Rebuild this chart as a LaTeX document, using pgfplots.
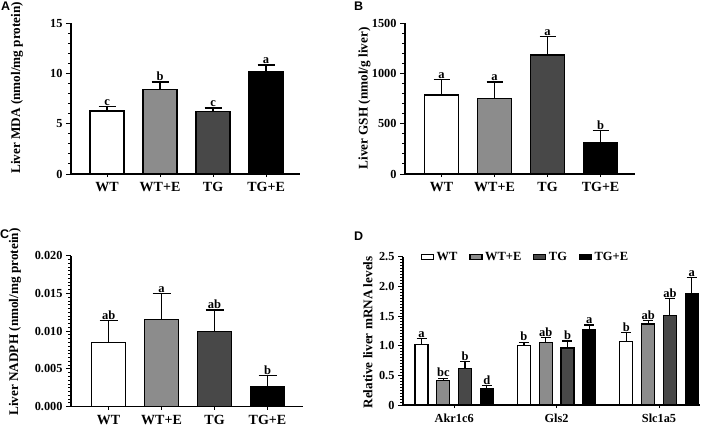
\documentclass[border=0pt]{standalone}
\usepackage{pgfplots}
\pgfplotsset{compat=1.18}
\usepackage{fontspec}
\setmainfont{Liberation Serif}
\setsansfont{Liberation Sans}
\definecolor{midgray}{RGB}{140,140,140}
\definecolor{darkgray}{RGB}{72,72,72}
\tikzset{lt/.style={anchor=south, yshift=0pt, inner sep=1pt, font=\bfseries\fontsize{12.5}{13}\selectfont}}
\pgfplotsset{
  gp/.style={
    scale only axis, clip=false,
    axis x line*=bottom, axis y line*=left,
    axis line style={line width=1.3pt},
    tick align=outside,
    major tick length=5pt, minor tick length=3pt,
    every tick/.style={line width=1.0pt, black},
    xtick style={/pgfplots/major tick length=3pt},
    ymin=0,
    ybar, bar shift=0pt,
    /pgf/number format/assume math mode=true,
    /pgf/number format/1000 sep={},
    yticklabel style={font=\bfseries\fontsize{12.3}{13}\selectfont},
    xticklabel style={font=\bfseries\fontsize{14}{15}\selectfont},
    every axis y label/.style={rotate=90, anchor=center, font=\bfseries\fontsize{13.2}{14}\selectfont},
  },
  barA/.style={draw=black, line width=1.3pt, bar width=34pt,
    error bars/y dir=plus, error bars/y explicit,
    error bars/error bar style={line width=1.3pt, black},
    error bars/error mark options={rotate=90, mark size=#1, line width=1.3pt, black}},
  barA/.default=8.5pt,
  barD/.style={draw=black, line width=1.2pt, bar width=13pt,
    error bars/y dir=plus, error bars/y explicit,
    error bars/error bar style={line width=1.2pt, black},
    error bars/error mark options={rotate=90, mark size=5pt, line width=1.2pt, black}},
}
\begin{document}
\begin{tikzpicture}
\useasboundingbox (0,0) rectangle (709pt,-426pt);
\node[anchor=north west, inner sep=0pt, font=\sffamily\bfseries\fontsize{12.5}{13}\selectfont] at (1pt,-2pt) {A};
\node[anchor=north west, inner sep=0pt, font=\sffamily\bfseries\fontsize{12.5}{13}\selectfont] at (354pt,-2pt) {B};
\node[anchor=north west, inner sep=0pt, font=\sffamily\bfseries\fontsize{12.5}{13}\selectfont] at (0pt,-230pt) {C};
\node[anchor=north west, inner sep=0pt, font=\sffamily\bfseries\fontsize{12.5}{13}\selectfont] at (354pt,-232pt) {D};

% Panel A
\begin{axis}[gp, at={(71pt,-174pt)}, anchor=south west, width=229pt, height=151pt,
  xmin=-0.68, xmax=3.64, ymax=15, ytick={0,5,10,15}, minor y tick num=4,
  xtick={0,1,2,3}, xticklabels={WT,WT+E,TG,TG+E},
  ylabel={Liver MDA (nmol/mg protein)},
  ylabel style={at={(axis description cs:-0.236,0.57)}}]
\addplot[fill=white, barA] coordinates {(0,6.25) +- (0,0.45)};
\addplot[fill=midgray, barA] coordinates {(1,8.37) +- (0,0.76)};
\addplot[fill=darkgray, barA] coordinates {(2,6.2) +- (0,0.35)};
\addplot[fill=black, barA] coordinates {(3,10.2) +- (0,0.63)};
\node[lt] at (axis cs:0,6.7) {c};
\node[lt] at (axis cs:1,9.13) {b};
\node[lt] at (axis cs:2,6.55) {c};
\node[lt] at (axis cs:3,10.83) {a};
\end{axis}

% Panel B
\begin{axis}[gp, at={(405pt,-174pt)}, anchor=south west, width=230pt, height=151pt,
  xmin=-0.69, xmax=3.65, ymax=1500, ytick={0,500,1000,1500}, minor y tick num=4,
  xtick={0,1,2,3}, xticklabels={WT,WT+E,TG,TG+E},
  ylabel={Liver GSH (nmol/g liver)},
  ylabel style={at={(axis description cs:-0.176,0.5)}}]
\addplot[fill=white, barA=8pt] coordinates {(0,785) +- (0,155)};
\addplot[fill=midgray, barA=8pt] coordinates {(1,752) +- (0,162)};
\addplot[fill=darkgray, barA=8pt] coordinates {(2,1182) +- (0,182)};
\addplot[fill=black, barA=8pt] coordinates {(3,315) +- (0,115)};
\node[lt] at (axis cs:0,940) {a};
\node[lt] at (axis cs:1,914) {a};
\node[lt] at (axis cs:2,1364) {a};
\node[lt] at (axis cs:3,430) {b};
\end{axis}

% Panel C
\begin{axis}[gp, at={(71pt,-406.7pt)}, anchor=south west, width=232pt, height=151pt,
  xmin=-0.71, xmax=3.67, ymax=0.020, ytick={0,0.005,0.010,0.015,0.020}, minor y tick num=9,
  scaled y ticks=false,
  yticklabel style={/pgf/number format/.cd, fixed, fixed zerofill, precision=3},
  xtick={0,1,2,3}, xticklabels={WT,WT+E,TG,TG+E},
  ylabel={Liver NADPH (nmol/mg protein)},
  ylabel style={at={(axis description cs:-0.241,0.56)}}]
\addplot[fill=white, barA=9pt] coordinates {(0,0.00848) +- (0,0.00291)};
\addplot[fill=midgray, barA=9pt] coordinates {(1,0.01157) +- (0,0.00344)};
\addplot[fill=darkgray, barA=9pt] coordinates {(2,0.00998) +- (0,0.00282)};
\addplot[fill=black, barA=9pt] coordinates {(3,0.00265) +- (0,0.00145)};
\node[lt] at (axis cs:0,0.01139) {ab};
\node[lt] at (axis cs:1,0.01501) {a};
\node[lt] at (axis cs:2,0.0128) {ab};
\node[lt] at (axis cs:3,0.0041) {b};
\end{axis}

% Panel D
\begin{axis}[gp, at={(403pt,-405pt)}, anchor=south west, width=297pt, height=148.3pt,
  xmin=-0.5, xmax=2.4, ymax=2.5, ytick={0,0.5,1.0,1.5,2.0,2.5}, yticklabels={0,0.5,1.0,1.5,2.0,2.5},
  minor y tick num=9,
  xtick={0,1,2}, xticklabels={Akr1c6,Gls2,Slc1a5},
  xticklabel style={font=\bfseries\fontsize{12.3}{13}\selectfont},
  ylabel={Relative liver mRNA levels},
  ylabel style={at={(axis description cs:-0.118,0.49)}},
  legend columns=4,
  legend style={draw=none, fill=none, at={(rel axis cs:0.06,1.045)}, anchor=north west,
    font=\bfseries\fontsize{12.5}{13}\selectfont, inner sep=0pt,
    /tikz/every odd column/.append style={column sep=0.5pt},
    /tikz/every even column/.append style={column sep=10pt}},
  legend image code/.code={\draw[#1, line width=1.1pt] (0pt,-2.3pt) rectangle (12pt,2.3pt);},
  ]
\addplot[fill=white, barD] coordinates {(-0.319,1.022) +- (0,0.10) (0.681,1.0) +- (0,0.06) (1.681,1.067) +- (0,0.155)};
\addplot[fill=midgray, barD] coordinates {(-0.106,0.41) +- (0,0.04) (0.894,1.06) +- (0,0.08) (1.894,1.365) +- (0,0.055)};
\addplot[fill=darkgray, barD] coordinates {(0.106,0.62) +- (0,0.11) (1.106,0.96) +- (0,0.12) (2.106,1.51) +- (0,0.28)};
\addplot[fill=black, barD] coordinates {(0.319,0.275) +- (0,0.051) (1.319,1.275) +- (0,0.075) (2.319,1.876) +- (0,0.27)};
\legend{WT,WT+E,TG,TG+E}
\node[lt] at (axis cs:-0.319,1.12) {a};
\node[lt] at (axis cs:-0.106,0.45) {bc};
\node[lt] at (axis cs:0.106,0.73) {b};
\node[lt] at (axis cs:0.319,0.326) {d};
\node[lt] at (axis cs:0.681,1.06) {b};
\node[lt] at (axis cs:0.894,1.14) {ab};
\node[lt] at (axis cs:1.106,1.08) {b};
\node[lt] at (axis cs:1.319,1.35) {a};
\node[lt] at (axis cs:1.681,1.22) {b};
\node[lt] at (axis cs:1.894,1.42) {ab};
\node[lt] at (axis cs:2.106,1.79) {ab};
\node[lt] at (axis cs:2.319,2.146) {a};
\end{axis}
\end{tikzpicture}
\end{document}
